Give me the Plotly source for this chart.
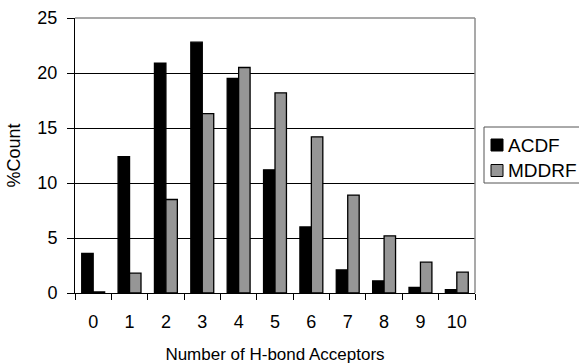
import plotly.graph_objects as go

# Number of H-bond acceptors per molecule and the share of each library (%)
categories = ["0", "1", "2", "3", "4", "5", "6", "7", "8", "9", "10"]
acdf = [3.6, 12.4, 20.9, 22.8, 19.5, 11.2, 6.0, 2.1, 1.1, 0.5, 0.3]
mddrf = [0.1, 1.8, 8.5, 16.3, 20.5, 18.2, 14.2, 8.9, 5.2, 2.8, 1.9]
series_names = ["ACDF", "MDDRF"]
series_colors = ["#000000", "#969696"]

FONT = "Liberation Sans, Arial, Helvetica, sans-serif"

fig = go.Figure()
for name, vals, col in zip(series_names, [acdf, mddrf], series_colors):
    fig.add_trace(go.Bar(
        x=categories, y=vals, name=name,
        marker=dict(color=col, line=dict(color="#000000", width=1.3)),
        showlegend=False,
    ))

fig.update_layout(
    width=579, height=364,
    margin=dict(l=75, r=104, t=18, b=71),
    paper_bgcolor="white", plot_bgcolor="white",
    barmode="group", bargap=0.37, bargroupgap=0,
    font=dict(family=FONT, size=18, color="#000000"),
    xaxis=dict(
        type="category", tickson="boundaries", ticks="outside", ticklen=6,
        tickcolor="#000000", showline=True, linecolor="#000000", linewidth=1,
        showgrid=False, tickfont=dict(size=18), ticklabelstandoff=12,
        automargin=False,
        title=dict(text="Number of H-bond Acceptors", font=dict(size=17), standoff=18),
    ),
    yaxis=dict(
        range=[0, 25], dtick=5, ticks="outside", ticklen=7, tickcolor="#000000",
        showline=True, linecolor="#000000", linewidth=1,
        showgrid=True, gridcolor="#000000", gridwidth=1, zeroline=False,
        tickfont=dict(size=18), ticklabelstandoff=6, automargin=False,
        title=dict(text="%Count", font=dict(size=18), standoff=12),
    ),
)

# Grey plot-area border on the top and right
fig.add_shape(type="line", xref="paper", yref="paper", x0=0, x1=1, y0=1, y1=1,
              line=dict(color="#8c8c8c", width=1.5))
fig.add_shape(type="line", xref="paper", yref="paper", x0=1, x1=1, y0=0, y1=1,
              line=dict(color="#8c8c8c", width=1.5))

# Legend box with square keys
plot_w, plot_h = 400, 275
def px_x(px):
    return (px - 75) / plot_w
def px_y(py):
    return (293 - py) / plot_h

fig.add_shape(type="rect", xref="paper", yref="paper",
              x0=px_x(484), x1=px_x(584), y0=px_y(183), y1=px_y(127),
              line=dict(color="#555555", width=1), fillcolor="white")
row_y = [145, 170.5]
for name, col, yy in zip(series_names, series_colors, row_y):
    fig.add_shape(type="rect", xref="paper", yref="paper",
                  x0=px_x(491), x1=px_x(503), y0=px_y(yy + 6), y1=px_y(yy - 6),
                  line=dict(color="#000000", width=1), fillcolor=col)
    fig.add_annotation(text=name, xref="paper", yref="paper",
                       x=px_x(506), y=px_y(yy), xanchor="left", yanchor="middle",
                       showarrow=False, font=dict(size=19, family=FONT))

fig.write_html("out.html")
